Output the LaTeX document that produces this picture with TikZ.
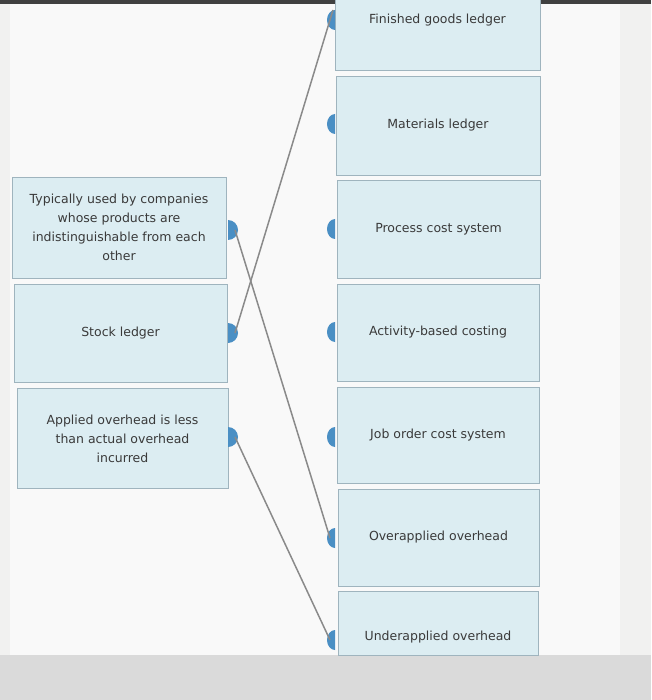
\documentclass[tikz,border=0pt]{standalone}
\usepackage{fontspec}
\setmainfont{DejaVu Sans}
\begin{document}
\begin{tikzpicture}[x=1pt,y=-1pt,
  card/.style={draw=cardline,fill=cardfill,line width=0.8pt},
  lbl/.style={font=\fontsize{12.5}{19}\selectfont,text=textc,align=center},
  tabc/.style={fill=tabblue,draw=none},
  link/.style={draw=linkgray,line width=1.5pt}]
\definecolor{cardfill}{HTML}{DCEDF2}
\definecolor{cardline}{HTML}{9FB4BE}
\definecolor{tabblue}{HTML}{4A8FC4}
\definecolor{linkgray}{HTML}{8A8A8A}
\definecolor{textc}{HTML}{3A3A3A}
\definecolor{bgc}{HTML}{F1F1F0}
\definecolor{bottomc}{HTML}{DADADA}
\useasboundingbox (0,0) rectangle (651,700);
\fill[bgc] (0,0) rectangle (651,700);
\fill[white!60!bgc] (10,0) rectangle (620,655);
\fill[bottomc] (0,655) rectangle (651,700);
\fill[black!75] (0,0) rectangle (651,4);
% left cards
\node[card,minimum width=214pt,minimum height=101pt] (l1) at (119,227.5) {};
\node[lbl] at (l1) {Typically used by companies\\whose products are\\indistinguishable from each\\other};
\node[card,minimum width=213pt,minimum height=98pt] (l2) at (120.5,333) {};
\node[lbl] at (l2) {Stock ledger};
\node[card,minimum width=211pt,minimum height=100pt] (l3) at (122.5,438) {};
\node[lbl] at (122.5,439) {Applied overhead is less\\than actual overhead\\incurred};
% right cards
\node[card,minimum width=205pt,minimum height=74pt] (r1) at (437.5,33) {};
\node[lbl] at (437.5,20) {Finished goods ledger};
\node[card,minimum width=204pt,minimum height=99pt] (r2) at (438,125.5) {};
\node[lbl] at (r2) {Materials ledger};
\node[card,minimum width=203pt,minimum height=98pt] (r3) at (438.5,229) {};
\node[lbl] at (r3) {Process cost system};
\node[card,minimum width=202pt,minimum height=97pt] (r4) at (438,332.5) {};
\node[lbl] at (r4) {Activity-based costing};
\node[card,minimum width=202pt,minimum height=96pt] (r5) at (438,435) {};
\node[lbl] at (r5) {Job order cost system};
\node[card,minimum width=201pt,minimum height=97pt] (r6) at (438.5,537.5) {};
\node[lbl] at (r6) {Overapplied overhead};
\node[card,minimum width=200pt,minimum height=64pt] (r7) at (438,623) {};
\node[lbl] at (438,637) {Underapplied overhead};
% tabs
\foreach \y/\n in {230/a,333/b,437/c}{
  \fill[tabc] (228,\y-10) arc[start angle=-90,end angle=90,radius=10] -- cycle;
  \coordinate (t\n) at (235,\y);
}
\foreach \y/\n in {20/1,124/2,229/3,332/4,437/5,538/6,640/7}{
  \fill[tabc] (335,\y-10) arc[start angle=-90,end angle=-270,x radius=8,y radius=10] -- cycle;
  \coordinate (s\n) at (330,\y);
}
\draw[link] (tb) -- (333,10);
\draw[link] (ta) -- (s6);
\draw[link] (tc) -- (s7);
\end{tikzpicture}
\end{document}
